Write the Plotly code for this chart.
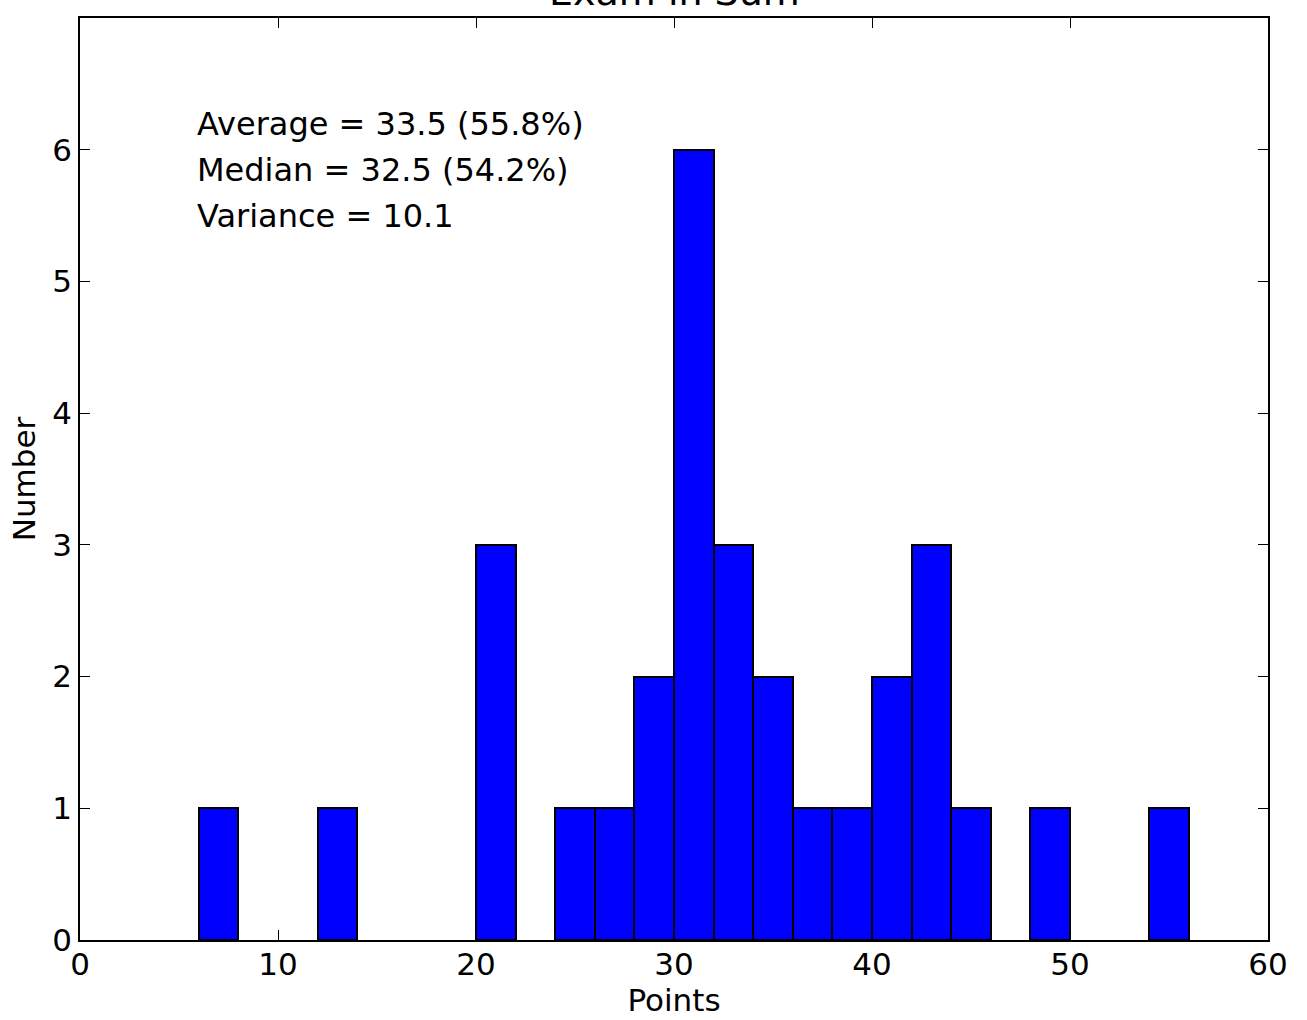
import plotly.graph_objects as go

# Histogram data (bin width 2, from 0 to 60)
bin_left = [6, 12, 20, 24, 26, 28, 30, 32, 34, 36, 38, 40, 42, 44, 48, 54]
counts = [1, 1, 3, 1, 1, 2, 6, 3, 2, 1, 1, 2, 3, 1, 1, 1]
bin_width = 2

title_text = "Exam in Sum"
stats_lines = ["Average = 33.5 (55.8%)", "Median = 32.5 (54.2%)", "Variance = 10.1"]

FONT = "DejaVu Sans"

centers = [b + bin_width / 2 for b in bin_left]

fig = go.Figure()
fig.add_trace(go.Bar(
    x=centers, y=counts, width=[bin_width] * len(centers),
    marker=dict(color="#0000ff", line=dict(color="black", width=2)),
    showlegend=False,
))

axis_common = dict(
    showline=True, linecolor="black", linewidth=1.8, mirror="ticks",
    ticks="inside", ticklen=10, tickwidth=1.2, tickcolor="black",
    showgrid=False, zeroline=False,
    tickfont=dict(family=FONT, size=31, color="black"),
)

fig.update_xaxes(range=[0, 60], tick0=0, dtick=10, ticklabelstandoff=-4,
                 title=dict(text="Points", font=dict(family=FONT, size=31, color="black"), standoff=6),
                 **axis_common)
fig.update_yaxes(range=[0, 7.0005], tickvals=[0, 1, 2, 3, 4, 5, 6, 7],
                 title=dict(text="Number", font=dict(family=FONT, size=31, color="black"), standoff=7),
                 **axis_common)

ys = [0.885, 0.835, 0.785]
for txt, yy in zip(stats_lines, ys):
    fig.add_annotation(text=txt, xref="x domain", yref="y domain", x=0.0965, y=yy,
                       xanchor="left", yanchor="middle", showarrow=False,
                       font=dict(family=FONT, size=32, color="black"))

fig.add_annotation(text=title_text, xref="paper", yref="paper", x=0.5, y=1,
                   xanchor="center", yanchor="bottom", yshift=2, showarrow=False,
                   font=dict(family=FONT, size=38, color="black"))

fig.update_layout(
    width=1307, height=1020,
    margin=dict(l=80, r=39, t=18, b=80, autoexpand=False),
    paper_bgcolor="white", plot_bgcolor="white",
    bargap=0,
)

fig.write_html("out.html", config={"displayModeBar": False},
               post_script="document.body.style.margin='0px';")
